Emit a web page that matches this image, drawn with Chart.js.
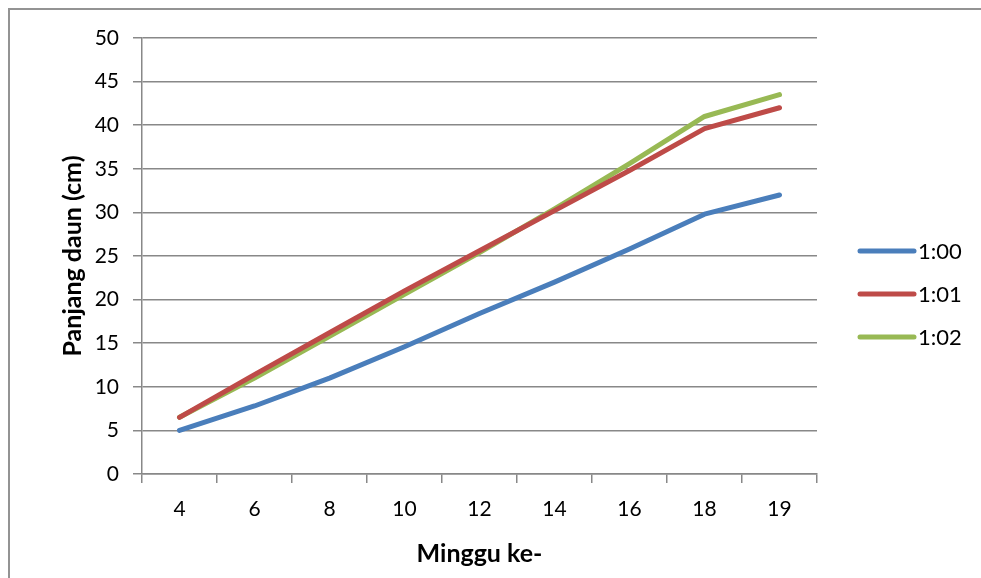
<!DOCTYPE html>
<html>
<head>
<meta charset="utf-8">
<script src="https://cdn.jsdelivr.net/npm/chart.js@4/dist/chart.umd.min.js"></script>
<style>
    html, body { margin: 0; padding: 0; background: #fff; overflow: hidden; }
    .frame {
        position: absolute;
        left: 8px;
        top: 8px;
        width: 973px;
        height: 570px;
        border-left: 2px solid #939393;
        border-top: 2px solid #939393;
        box-sizing: border-box;
    }
    .frame canvas { display: block; }
</style>
</head>
<body>
<div class="frame">
    <canvas id="chartDaun" width="971" height="568"></canvas>
</div>
<script>
    const weeks = ['4', '6', '8', '10', '12', '14', '16', '18', '19'];
    const seriesNames = ['1:00', '1:01', '1:02'];
    const seriesA = [5, 7.8, 11, 14.6, 18.4, 22, 25.8, 29.8, 32];
    const seriesB = [6.5, 11.4, 16.2, 21, 25.6, 30.2, 34.8, 39.6, 42];
    const seriesC = [6.5, 11, 15.8, 20.6, 25.4, 30.4, 35.6, 41, 43.5];

    const palette = {
        blue: '#4A7EBB',
        red: '#BE4B48',
        green: '#98B954',
        grid: '#888888',
    };

    const fontFamily = 'Lato, "Open Sans", sans-serif';

    // legend drawn by hand so it can sit where the original puts it
    const sideLegend = {
        id: 'sideLegend',
        afterDraw(chart) {
            const ctx = chart.ctx;
            const x0 = 850, y0 = 241, step = 43;
            ctx.save();
            chart.data.datasets.forEach(function (ds, i) {
                const y = y0 + i * step;
                ctx.strokeStyle = ds.borderColor;
                ctx.lineWidth = 5;
                ctx.lineCap = 'round';
                ctx.beginPath();
                ctx.moveTo(x0, y);
                ctx.lineTo(x0 + 54, y);
                ctx.stroke();
                ctx.fillStyle = '#000';
                ctx.font = '22px ' + fontFamily;
                ctx.textBaseline = 'middle';
                ctx.fillText(ds.label, x0 + 58, y + 1);
            });
            ctx.restore();
        },
    };

    function lineSet(label, data, color) {
        return {
            label,
            data,
            borderColor: color,
            backgroundColor: color,
            borderWidth: 5,
            borderCapStyle: 'round',
            borderJoinStyle: 'round',
            pointRadius: 0,
            tension: 0,
        };
    }

    new Chart(document.getElementById('chartDaun'), {
        type: 'line',
        data: {
            labels: weeks,
            datasets: [
                lineSet(seriesNames[0], seriesA, palette.blue),
                lineSet(seriesNames[1], seriesB, palette.red),
                lineSet(seriesNames[2], seriesC, palette.green),
            ],
        },
        options: {
            responsive: false,
            animation: false,
            layout: { padding: { top: 28, right: 164, left: 0, bottom: 0 } },
            plugins: {
                legend: { display: false },
                tooltip: { enabled: false },
            },
            scales: {
                x: {
                    offset: true,
                    grid: {
                        offset: true,
                        drawOnChartArea: false,
                        drawTicks: true,
                        tickLength: 9,
                        color: palette.grid,
                        lineWidth: 1.5,
                    },
                    border: { color: palette.grid, width: 1.5 },
                    ticks: {
                        color: '#000',
                        padding: 14,
                        font: { family: fontFamily, size: 21 },
                        maxRotation: 0,
                    },
                    title: {
                        display: true,
                        text: 'Minggu ke-',
                        color: '#000',
                        font: { family: fontFamily, size: 25, weight: 'bold' },
                        padding: { top: 0, bottom: 9 },
                    },
                    afterFit(scale) { scale.height = 104; },
                },
                y: {
                    min: 0,
                    max: 50,
                    ticks: {
                        stepSize: 5,
                        color: '#000',
                        padding: 14,
                        font: { family: fontFamily, size: 21 },
                    },
                    grid: {
                        color: palette.grid,
                        lineWidth: 1.5,
                        tickLength: 9,
                    },
                    border: { color: palette.grid, width: 1.5 },
                    title: {
                        display: true,
                        text: 'Panjang daun (cm)',
                        color: '#000',
                        font: { family: fontFamily, size: 25, weight: 'bold' },
                        padding: { top: 48, bottom: 0 },
                    },
                    afterFit(scale) { scale.width = 132; },
                },
            },
        },
        plugins: [sideLegend],
    });
</script>
</body>
</html>
